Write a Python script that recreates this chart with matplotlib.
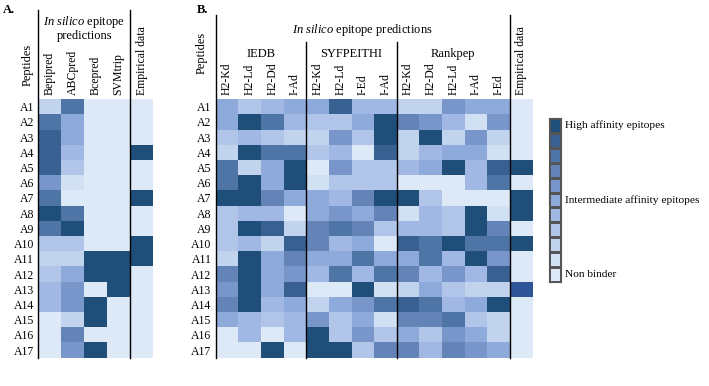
import numpy as np
import matplotlib
matplotlib.use('Agg')
import matplotlib.pyplot as plt
from matplotlib.colors import ListedColormap, BoundaryNorm
from matplotlib.lines import Line2D
from matplotlib.transforms import blended_transform_factory

plt.rcParams['font.family'] = ['Liberation Serif', 'DejaVu Serif']
plt.rcParams['mathtext.fontset'] = 'custom'
plt.rcParams['mathtext.rm'] = 'Liberation Serif'
plt.rcParams['mathtext.it'] = 'Liberation Serif:italic'

peptides = ['A%d' % i for i in range(1, 18)]

# panel A: B-cell epitope predictors + empirical (levels 0..10, 11 = odd blue cell)
cols_a = ['Bepipred', 'ABCpred', 'Bcepred', 'SVMtrip', 'Empirical data']
bepipred = [2, 8, 9, 9, 9, 6, 8, 10, 8, 3, 2, 3, 4, 4, 0, 0, 0]
abcpred = [8, 5, 5, 4, 3, 1, 0, 8, 10, 3, 2, 5, 6, 6, 2, 7, 6]
bcepred = [0, 0, 0, 0, 0, 0, 0, 0, 0, 0, 10, 10, 0, 10, 10, 0, 10]
svmtrip = [0, 0, 0, 0, 0, 0, 0, 0, 0, 0, 10, 10, 10, 0, 0, 0, 0]
empirical_a = [0, 0, 0, 10, 0, 0, 10, 0, 0, 10, 10, 0, 0, 0, 0, 0, 0]

# panel B: T-cell epitope predictors
cols_b = ['H2-Kd', 'H2-Ld', 'H2-Dd', 'I-Ad',
          'H2-Kd', 'H2-Ld', 'I-Ed', 'I-Ad',
          'H2-Kd', 'H2-Dd', 'H2-Ld', 'I-Ad', 'I-Ed', 'Empirical data']
groups_b = ['IEDB', 'SYFPEITHI', 'Rankpep']
iedb_kd = [5, 5, 3, 2, 8, 8, 10, 3, 3, 3, 2, 7, 6, 7, 5, 0, 0]
iedb_ld = [3, 10, 4, 10, 2, 10, 10, 4, 10, 4, 10, 10, 10, 10, 4, 4, 0]
iedb_dd = [4, 8, 3, 8, 5, 5, 7, 4, 9, 2, 5, 5, 5, 4, 3, 0, 10]
iedb_iad = [5, 4, 2, 8, 10, 10, 5, 0, 2, 9, 7, 6, 9, 5, 4, 4, 0]
syf_kd = [5, 3, 2, 3, 0, 1, 5, 5, 7, 7, 5, 4, 0, 2, 6, 10, 10]
syf_ld = [9, 3, 6, 4, 6, 3, 4, 6, 8, 4, 5, 8, 0, 5, 3, 3, 10]
syf_ied = [4, 5, 3, 0, 3, 3, 7, 5, 7, 5, 8, 4, 10, 6, 5, 6, 3]
syf_iad = [4, 10, 10, 9, 3, 3, 10, 7, 3, 0, 5, 8, 1, 8, 1, 3, 7]
rank_kd = [2, 7, 2, 2, 4, 0, 10, 1, 4, 9, 5, 7, 2, 9, 7, 5, 7]
rank_dd = [2, 6, 10, 4, 5, 0, 3, 4, 4, 8, 8, 4, 5, 8, 7, 3, 4]
rank_ld = [6, 4, 2, 5, 10, 0, 0, 3, 3, 10, 4, 6, 3, 4, 8, 6, 7]
rank_iad = [5, 1, 6, 5, 4, 4, 0, 10, 10, 8, 10, 4, 2, 5, 3, 5, 6]
rank_ied = [5, 6, 2, 1, 9, 8, 0, 1, 7, 8, 6, 9, 2, 10, 2, 2, 5]
empirical_b = [0, 0, 0, 0, 10, 0, 10, 10, 0, 10, 0, 0, 11, 0, 0, 0, 0]

legend_labels = ['High affinity epitopes', 'Intermediate affinity epitopes', 'Non binder']

shades = ['#dde9f6', '#d2e0f3', '#c2d3ee', '#b1c5e9', '#a0b8e3', '#8eaadb',
          '#7896c9', '#6484b8', '#4f74a6', '#386192', '#1f4e79', '#2f5597']
cmap = ListedColormap(shades)
norm = BoundaryNorm(np.arange(-0.5, 12.5, 1), cmap.N)

fig = plt.figure(figsize=(7.09, 3.86), dpi=100)
fs = 8.5


def heat(ax, data, cols):
    ax.pcolormesh(data, cmap=cmap, norm=norm)
    ax.set_xlim(0, data.shape[1])
    ax.set_ylim(data.shape[0], 0)
    ax.xaxis.tick_top()
    ax.set_xticks(np.arange(len(cols)) + 0.5)
    ax.set_xticklabels(cols, rotation=90, fontsize=fs)
    ax.set_yticks(np.arange(len(peptides)) + 0.5)
    ax.set_yticklabels(peptides, fontsize=fs)
    ax.tick_params(length=0, pad=3)
    for s in ax.spines.values():
        s.set_visible(False)


def vline(ax, x, ytop):
    tr = blended_transform_factory(ax.transData, fig.transFigure)
    fig.add_artist(Line2D([x, x], [ytop, 0.0733], transform=tr, color='black', lw=1.0))


# ---- panel A
axa = fig.add_axes([0.054, 0.0733, 0.162, 0.670])
data_a = np.array([bepipred, abcpred, bcepred, svmtrip, empirical_a]).T
heat(axa, data_a, cols_a)
vline(axa, 0, 0.974)
vline(axa, 4, 0.974)
axa.text(2, 1.275, '$\\it{In\\ silico}$ epitope\npredictions', transform=blended_transform_factory(axa.transData, axa.transAxes),
         ha='center', va='center', fontsize=fs + 0.5, linespacing=1.1)
axa.text(-0.09, 1.131, 'Peptides', transform=axa.transAxes, rotation=90, ha='center', va='center', fontsize=fs + 0.5)
fig.text(0.004, 0.99, 'A.', fontsize=fs + 0.5, weight='bold', va='top')

# ---- panel B
axb = fig.add_axes([0.3042, 0.0733, 0.447, 0.670])
data_b = np.array([iedb_kd, iedb_ld, iedb_dd, iedb_iad, syf_kd, syf_ld, syf_ied, syf_iad,
                   rank_kd, rank_dd, rank_ld, rank_iad, rank_ied, empirical_b]).T
heat(axb, data_b, cols_b)
vline(axb, 0, 0.961)
vline(axb, 13, 0.961)
vline(axb, 4, 0.89)
vline(axb, 8, 0.89)
trb = blended_transform_factory(axb.transData, axb.transAxes)
axb.text(6.5, 1.267, '$\\it{In\\ silico}$ epitope predictions', transform=trb, ha='center', va='center', fontsize=fs + 0.5)
for g, xc in zip(groups_b, [2, 6, 10.5]):
    axb.text(xc, 1.175, g, transform=trb, ha='center', va='center', fontsize=fs + 0.5)
axb.text(-0.045, 1.178, 'Peptides', transform=axb.transAxes, rotation=90, ha='center', va='center', fontsize=fs + 0.5)
fig.text(0.278, 0.99, 'B.', fontsize=fs + 0.5, weight='bold', va='top')

# ---- legend strip
axl = fig.add_axes([0.7743, 0.2694, 0.0169, 0.4249])
levels = np.arange(10, -1, -1).reshape(-1, 1)
axl.pcolormesh(levels, cmap=cmap, norm=norm, edgecolors='#555555', linewidth=0.8)
axl.set_ylim(len(levels), 0)
axl.set_xticks([])
axl.set_yticks([])
for s in axl.spines.values():
    s.set_color('#555555')
    s.set_linewidth(0.8)
for lab, yc in zip(legend_labels, [0.5, 5.5, 10.5]):
    axl.text(1.35, yc, lab, ha='left', va='center', fontsize=8.2)

fig.savefig('out.png', dpi=100)
